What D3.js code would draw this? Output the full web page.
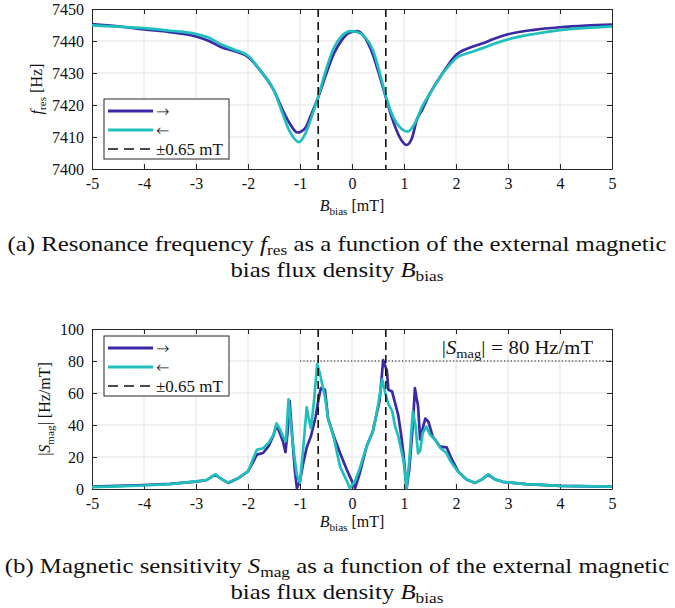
<!DOCTYPE html>
<html>
<head>
<meta charset="utf-8">
<script src="https://cdn.jsdelivr.net/npm/d3@7"></script>
<style>
  body { margin: 0; background: #fff; }
  svg text { font-family: "Liberation Serif", "Times New Roman", serif; fill: #111; }
</style>
</head>
<body>
<div id="chart"></div>
<script>
// values
const xTicks = [-5, -4, -3, -2, -1, 0, 1, 2, 3, 4, 5];
const freqTicks = [7400, 7410, 7420, 7430, 7440, 7450];
const sensTicks = [0, 20, 40, 60, 80, 100];
const markerB = [-0.65, 0.65];
const sensLimit = 80;

const freqUpB = [-5, -4.5, -4, -3.5, -3, -2.75, -2.5, -2.25, -2, -1.75, -1.5, -1.35, -1.2, -1.05, -0.9, -0.8, -0.65, -0.5, -0.35, -0.2, -0.05, 0.1, 0.25, 0.4, 0.55, 0.65, 0.8, 0.95, 1.05, 1.15, 1.25, 1.35, 1.5, 1.7, 1.85, 2, 2.25, 2.5, 2.75, 3, 3.5, 4, 4.5, 5];
const freqUp = [7445.3, 7444.6, 7443.6, 7442.8, 7441.4, 7440.0, 7438.0, 7436.8, 7435.0, 7430.5, 7424.5, 7419, 7414.3, 7411.4, 7412.8, 7416.4, 7422.4, 7429.5, 7436, 7440.2, 7442.6, 7443.1, 7441, 7435.8, 7428, 7422.4, 7414.5, 7409, 7407.5, 7409.5, 7415.5, 7418.5, 7423.6, 7428.9, 7432.5, 7435.6, 7437.8, 7439.2, 7440.8, 7442.1, 7443.5, 7444.3, 7444.8, 7445.1];

const freqDownB = [-5, -4.5, -4, -3.5, -3, -2.75, -2.5, -2.25, -2, -1.75, -1.5, -1.35, -1.2, -1.02, -0.9, -0.8, -0.65, -0.5, -0.35, -0.2, -0.03, 0.1, 0.25, 0.4, 0.55, 0.65, 0.8, 0.95, 1.07, 1.2, 1.35, 1.5, 1.7, 1.85, 2, 2.25, 2.5, 2.75, 3, 3.5, 4, 4.5, 5];
const freqDown = [7444.9, 7444.5, 7444.0, 7443.2, 7442.2, 7441.0, 7438.8, 7437.2, 7435.4, 7430.5, 7424.5, 7418.0, 7411.8, 7408.4, 7411, 7415.2, 7422.6, 7431, 7437.8, 7441.5, 7443.1, 7442.8, 7441.2, 7437.3, 7429, 7422.8, 7416, 7412.6, 7411.7, 7414, 7419.5, 7423.6, 7428.9, 7432, 7434.6, 7436.3, 7437.7, 7439.2, 7440.5, 7442.2, 7443.4, 7444.1, 7444.6];

const sensUpB = [-5, -4.5, -4, -3.5, -3, -2.8, -2.63, -2.5, -2.38, -2.2, -2, -1.9, -1.83, -1.71, -1.6, -1.51, -1.45, -1.4, -1.33, -1.28, -1.24, -1.2, -1.15, -1.1, -1.06, -1, -0.94, -0.87, -0.79, -0.7, -0.65, -0.6, -0.52, -0.46, -0.35, -0.23, -0.1, -0.04, 0.06, 0.15, 0.28, 0.4, 0.46, 0.53, 0.6, 0.67, 0.7, 0.77, 0.83, 0.89, 0.94, 0.99, 1.05, 1.1, 1.17, 1.21, 1.24, 1.27, 1.31, 1.36, 1.41, 1.47, 1.55, 1.69, 1.82, 1.9, 2.04, 2.2, 2.37, 2.5, 2.62, 2.75, 2.9, 3.35, 4, 5];
const sensUp = [1.5, 2, 2.5, 3.2, 4.6, 5.5, 9, 6, 3.8, 6.5, 11, 17, 21.5, 22.5, 27, 33.5, 40, 36, 30, 23, 35, 55, 33, 12, 0.5, 5, 16, 26, 33, 45, 55, 63, 62, 44, 33, 22.5, 12, 7.7, 0.5, 10, 26.5, 36, 45, 55, 80.5, 74, 62, 61, 53.6, 46, 35, 22, 0.5, 12, 40, 63, 57, 52, 31, 38, 44, 42, 33, 26.5, 26, 20, 11, 6, 3.8, 6, 9, 6, 4.5, 3, 2, 1.5];

const sensDownB = [-5, -4.5, -4, -3.5, -3, -2.8, -2.63, -2.5, -2.38, -2.2, -2, -1.9, -1.83, -1.71, -1.6, -1.51, -1.45, -1.38, -1.33, -1.27, -1.22, -1.16, -1.1, -1.06, -1, -0.94, -0.87, -0.82, -0.79, -0.73, -0.67, -0.62, -0.52, -0.46, -0.35, -0.23, -0.1, -0.04, 0.06, 0.15, 0.28, 0.4, 0.46, 0.52, 0.58, 0.64, 0.7, 0.77, 0.83, 0.89, 0.99, 1.05, 1.1, 1.17, 1.22, 1.27, 1.31, 1.36, 1.43, 1.5, 1.6, 1.69, 1.82, 1.9, 2.04, 2.2, 2.37, 2.5, 2.62, 2.75, 2.9, 3.35, 4, 5];
const sensDown = [1.2, 1.6, 2.2, 3, 4.8, 5.5, 9.2, 6, 4, 6.5, 11, 19, 24.5, 25.5, 29, 34, 41, 37, 33, 30, 56, 35, 18, 8.7, 4, 25, 51, 42, 38, 55, 78, 72.5, 57.7, 44, 32, 14, 5, 0.5, 5, 13, 26.5, 36, 45, 56, 68.5, 60, 53, 49, 39, 33, 18, 0.5, 17, 48.3, 40, 22.3, 24, 35, 39, 34, 30.6, 26, 22.3, 17, 10.8, 6, 3.8, 6, 9.2, 6, 4.5, 3, 2, 1.5];

const colorUp = '#3a2aa6';
const colorDown = '#1fbfbc';

const width = 675, height = 608;
const svg = d3.select('#chart').append('svg')
  .attr('width', width).attr('height', height);

const x = d3.scaleLinear().domain([-5, 5]).range([92, 612]);

function zip(bs, vs) {
  return bs.map((b, i) => ({ b, v: vs[i] }));
}

// math-ish label: italic main symbol + roman subscript + trailing text
function mathLabel(sel, main, sub, rest, size) {
  sel.append('tspan').attr('font-style', 'italic').text(main);
  sel.append('tspan').attr('font-size', size * 0.7).attr('dy', size * 0.22).text(sub);
  sel.append('tspan').attr('dy', -size * 0.22).text(rest);
}

function drawPanel(cfg) {
  const y = d3.scaleLinear().domain(cfg.domain).range(cfg.range);
  const g = svg.append('g');
  const [x0, x1] = x.range();
  const [yb, yt] = cfg.range;

  // grid
  g.append('g').selectAll('line').data(xTicks.slice(1, -1)).enter().append('line')
    .attr('x1', d => x(d)).attr('x2', d => x(d)).attr('y1', yt).attr('y2', yb)
    .attr('stroke', '#e3e3e3').attr('stroke-width', 1);
  g.append('g').selectAll('line').data(cfg.ticks.slice(1, -1)).enter().append('line')
    .attr('x1', x0).attr('x2', x1).attr('y1', d => y(d)).attr('y2', d => y(d))
    .attr('stroke', '#e3e3e3').attr('stroke-width', 1);

  // axes with inward ticks on all four sides
  const fmt = d => String(d);
  const ax = [
    g.append('g').attr('transform', `translate(0,${yb})`).call(d3.axisBottom(x).tickValues(xTicks).tickSizeInner(-5).tickSizeOuter(0).tickPadding(9).tickFormat(fmt)),
    g.append('g').attr('transform', `translate(0,${yt})`).call(d3.axisTop(x).tickValues(xTicks).tickSizeInner(-5).tickSizeOuter(0).tickFormat('')),
    g.append('g').attr('transform', `translate(${x0},0)`).call(d3.axisLeft(y).tickValues(cfg.ticks).tickSizeInner(-5).tickSizeOuter(0).tickPadding(8).tickFormat(fmt)),
    g.append('g').attr('transform', `translate(${x1},0)`).call(d3.axisRight(y).tickValues(cfg.ticks).tickSizeInner(-5).tickSizeOuter(0).tickFormat(''))
  ];
  ax.forEach(a => {
    a.select('.domain').attr('stroke', '#262626');
    a.selectAll('.tick line').attr('stroke', '#262626');
    a.selectAll('.tick text').attr('font-size', 16).attr('fill', '#111')
      .attr('font-family', '"Liberation Serif", serif');
  });

  const line = d3.line().x(d => x(d.b)).y(d => y(d.v)).curve(cfg.curve);

  g.append('path').datum(zip(cfg.upB, cfg.up))
    .attr('fill', 'none').attr('stroke', colorUp).attr('stroke-width', 2.7)
    .attr('stroke-linejoin', 'round').attr('d', line);
  g.append('path').datum(zip(cfg.downB, cfg.down))
    .attr('fill', 'none').attr('stroke', colorDown).attr('stroke-width', 2.7)
    .attr('stroke-linejoin', 'round').attr('d', line);

  // ±0.65 mT markers
  g.append('g').selectAll('line').data(markerB).enter().append('line')
    .attr('x1', d => x(d)).attr('x2', d => x(d)).attr('y1', yt).attr('y2', yb)
    .attr('stroke', '#111').attr('stroke-width', 1.6).attr('stroke-dasharray', '8,5');

  if (cfg.extra) cfg.extra(g, y);

  // legend
  const lg = g.append('g').attr('transform', `translate(104,${cfg.legendTop})`);
  lg.append('rect').attr('width', 125).attr('height', 60)
    .attr('fill', '#fff').attr('stroke', '#262626').attr('stroke-width', 1);
  const items = [
    { label: '→', color: colorUp, dash: null, arrow: true },
    { label: '←', color: colorDown, dash: null, arrow: true },
    { label: '±0.65 mT', color: '#111', dash: '10,6', arrow: false }
  ];
  items.forEach((it, i) => {
    const yy = 12 + i * 19;
    lg.append('line').attr('x1', 4).attr('x2', 49).attr('y1', yy).attr('y2', yy)
      .attr('stroke', it.color).attr('stroke-width', it.dash ? 1.6 : 2.8)
      .attr('stroke-dasharray', it.dash);
    lg.append('text').attr('x', 52).attr('y', yy + 5.5)
      .attr('font-size', it.arrow ? 16 : 17)
      .style('font-family', it.arrow ? '"DejaVu Sans", sans-serif' : null)
      .style('font-weight', it.arrow ? 300 : null)
      .text(it.label);
  });

  // x label
  const xl = g.append('text').attr('x', 352).attr('y', cfg.xLabelY)
    .attr('text-anchor', 'middle').attr('font-size', 16);
  mathLabel(xl, 'B', 'bias', ' [mT]', 16);

  // y label
  const ylab = g.append('text')
    .attr('transform', `translate(${cfg.yLabelX},${(yt + yb) / 2}) rotate(-90)`)
    .attr('text-anchor', 'middle').attr('font-size', 16);
  cfg.yLabel(ylab);

  // caption (the reference is stretched horizontally)
  cfg.caption.forEach((c, i) => {
    const t = svg.append('text')
      .attr('transform', `translate(337,${cfg.captionY + i * 26}) scale(1.24,1)`)
      .attr('text-anchor', 'middle').attr('font-size', 20);
    c(t);
  });
}

drawPanel({
  domain: [7400, 7450], range: [169, 9], ticks: freqTicks,
  upB: freqUpB, up: freqUp, downB: freqDownB, down: freqDown,
  curve: d3.curveMonotoneX,
  legendTop: 99, xLabelY: 211, yLabelX: 42,
  yLabel: t => mathLabel(t, 'f', 'res', ' [Hz]', 16),
  captionY: 251,
  caption: [
    t => { t.append('tspan').text('(a) Resonance frequency ');
           mathLabel(t, 'f', 'res', ' as a function of the external magnetic', 20); },
    t => { t.append('tspan').text('bias flux density ');
           mathLabel(t, 'B', 'bias', '', 20); }
  ]
});

drawPanel({
  domain: [0, 100], range: [489, 329], ticks: sensTicks,
  upB: sensUpB, up: sensUp, downB: sensDownB, down: sensDown,
  curve: d3.curveLinear,
  legendTop: 336, xLabelY: 527, yLabelX: 50,
  yLabel: t => { t.append('tspan').text('|');
                 mathLabel(t, 'S', 'mag', '| [Hz/mT]', 16); },
  extra: (g, y) => {
    g.append('line').attr('x1', x(-1)).attr('x2', x(5)).attr('y1', y(sensLimit)).attr('y2', y(sensLimit))
      .attr('stroke', '#111').attr('stroke-width', 1.2).attr('stroke-dasharray', '1.2,2.2');
    const t = g.append('text')
      .attr('transform', `translate(593,${y(sensLimit) - 7}) scale(1.15,1)`)
      .attr('text-anchor', 'end').attr('font-size', 18);
    t.append('tspan').text('|');
    mathLabel(t, 'S', 'mag', '|', 18);
    t.append('tspan').attr('dx', 5).text('=');
    t.append('tspan').attr('dx', 5).text('80 Hz/mT');
  },
  captionY: 573,
  caption: [
    t => { t.append('tspan').text('(b) Magnetic sensitivity ');
           mathLabel(t, 'S', 'mag', ' as a function of the external magnetic', 20); },
    t => { t.append('tspan').text('bias flux density ');
           mathLabel(t, 'B', 'bias', '', 20); }
  ]
});
</script>
</body>
</html>
